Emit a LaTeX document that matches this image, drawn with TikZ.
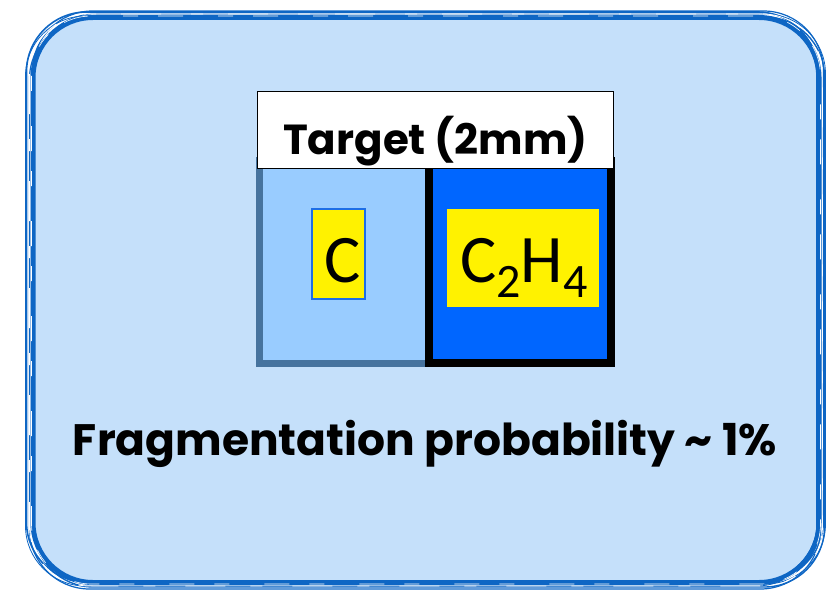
\documentclass[tikz,border=0pt]{standalone}
\usepackage{fontspec}
\setmainfont{Poppins}
\newfontfamily\calfont{Carlito}
\usetikzlibrary{positioning}
\definecolor{framebl}{RGB}{14,102,196}
\definecolor{panebl}{RGB}{197,224,250}
\definecolor{lightbl}{RGB}{153,204,255}
\definecolor{steelbl}{RGB}{70,115,158}
\definecolor{deepbl}{RGB}{0,102,255}
\definecolor{markbd}{RGB}{30,110,230}

\begin{document}
\begin{tikzpicture}[x=1pt,y=-1pt,
  sketch/.style={draw=framebl,rounded corners=60pt},
  cell/.style={minimum width=#1,inner sep=0pt},
  hilite/.style={fill=yellow,inner sep=0pt}]
\useasboundingbox (0,0) rectangle (826,591);
% rough frame
\node[draw=framebl,fill=panebl,line width=5pt,rounded corners=60pt,minimum width=786pt,minimum height=565pt,inner sep=0pt] (frame) at (426,300) {};
\foreach \dx/\dy/\w in {-4/-3/1.6,3/2/1.4,-1/4/1.2,2/-4/1.2,-5/1/0.8,4/-1/0.8}
  \draw[sketch,line width=\w pt] ([shift={(\dx,\dy)}]frame.north west) rectangle ([shift={(\dx,\dy)}]frame.south east);
\draw[sketch,white,line width=0.8pt,dash pattern=on 40pt off 25pt on 12pt off 30pt] ([shift={(-1,-1)}]frame.north west) rectangle ([shift={(1,1)}]frame.south east);
\draw[sketch,white,line width=0.6pt,dash pattern=on 15pt off 35pt on 25pt off 20pt] ([shift={(1,1)}]frame.north west) rectangle ([shift={(-1,-1)}]frame.south east);
% target cells
\node[cell=169.5pt,draw=steelbl,fill=lightbl,line width=7pt,minimum height=203pt] (lbox) at (344,262) {};
\node[cell=182pt,draw=black,fill=deepbl,line width=8pt,minimum height=202pt] (rbox) at (520,262) {};
\node[draw=black,fill=white,line width=1pt,minimum width=356pt,minimum height=76pt,inner sep=0pt] (target) at (435,130) {};
\begin{scope}
\clip (target.north west) rectangle ([yshift=-11pt]target.south east);
\node[anchor=base,inner sep=0pt,font=\fontsize{42}{42}\selectfont\bfseries] (ttl) at (435.5,154) {Target (2mm)};
\end{scope}
\node[hilite,draw=markbd,line width=1.5pt,minimum width=53pt,minimum height=90pt] (cmark) at (338.5,254) {};
\node[hilite,minimum width=152pt,minimum height=98pt] (chmark) at (523,258) {};
\node[anchor=base,inner sep=0pt,font=\calfont\fontsize{68}{68}\selectfont] (ctext) at (342.5,282) {C};
\node[anchor=base west,inner sep=0pt,font=\calfont\fontsize{68}{68}\selectfont] (chtext) at (460,282)
  {C\raisebox{-15pt}{\fontsize{48}{48}\selectfont 2}H\raisebox{-15pt}{\fontsize{48}{48}\selectfont 4}};
\node[anchor=base,inner sep=0pt,font=\fontsize{44}{44}\selectfont\bfseries] (prob) at (425,455) {Fragmentation probability \textasciitilde{} 1\%};
\end{tikzpicture}
\end{document}
